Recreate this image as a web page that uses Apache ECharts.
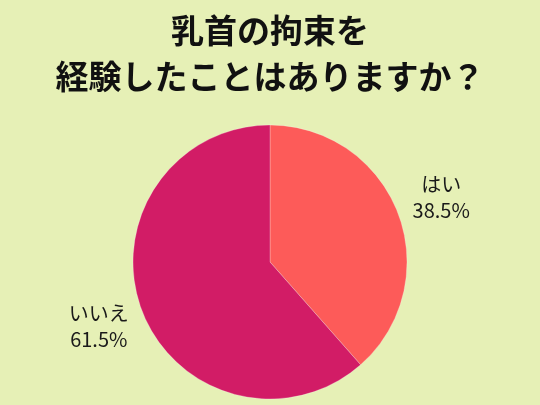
<!DOCTYPE html>
<html>
<head>
<meta charset="utf-8">
<script src="https://cdn.jsdelivr.net/npm/echarts@6/dist/echarts.min.js"></script>
<style>
html,body{margin:0;padding:0;background:#e6f0b6;}
#c{width:540px;height:405px;}
</style>
</head>
<body>
<div id="c"></div>
<script>
var titleLines = ['乳首の拘束を', '経験したことはありますか？'];
var categories = ['はい', 'いいえ'];
var values = [38.5, 61.5];
var colors = ['#fd5b59', '#d21c66'];

var data = categories.map(function (c, i) {
  return { name: c, value: values[i], itemStyle: { color: colors[i] } };
});

var chart = echarts.init(document.getElementById('c'), null, { renderer: 'canvas' });
chart.setOption({
  backgroundColor: '#e6f0b6',
  animation: false,
  title: {
    text: titleLines.join('\n'),
    left: 'center',
    top: 2,
    textStyle: {
      fontFamily: 'Noto Sans CJK JP',
      fontWeight: 'bold',
      fontSize: 33,
      lineHeight: 46,
      color: '#111'
    }
  },
  series: [
    {
      type: 'pie',
      center: [270, 262],
      radius: 137,
      startAngle: 90,
      clockwise: true,
      silent: true,
      label: { show: false },
      labelLine: { show: false },
      itemStyle: { borderColor: 'rgba(255,255,255,0.25)', borderWidth: 1 },
      data: data
    },
    {
      type: 'pie',
      center: [270, 262],
      radius: 360,
      startAngle: 90,
      clockwise: true,
      silent: true,
      z: 5,
      itemStyle: { color: 'rgba(0,0,0,0)' },
      label: {
        show: true,
        position: 'inside',
        rotate: 0,
        formatter: function (p) { return p.name + '\n' + p.value + '%'; },
        fontFamily: 'Noto Sans CJK JP',
        fontSize: 20,
        lineHeight: 26,
        color: '#1a1a1a'
      },
      labelLine: { show: false },
      data: categories.map(function (c, i) {
        return { name: c, value: values[i] };
      })
    }
  ]
});
</script>
</body>
</html>
